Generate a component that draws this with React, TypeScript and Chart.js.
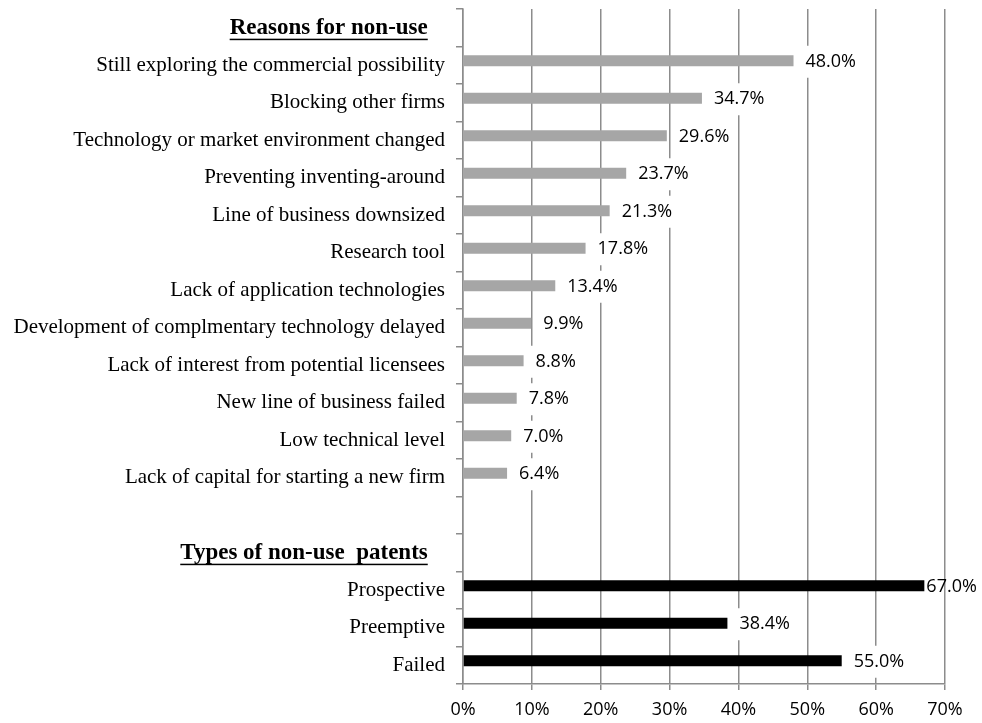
import React, { useEffect, useRef } from 'react';
import { Chart, registerables } from 'chart.js';

Chart.register(...registerables);

const reasonsHeader = 'Reasons for non-use';
const reasonLabels = [
  'Still exploring the commercial possibility',
  'Blocking other firms',
  'Technology or market environment changed',
  'Preventing inventing-around',
  'Line of business downsized',
  'Research tool',
  'Lack of application technologies',
  'Development of complmentary technology delayed',
  'Lack of interest from potential licensees',
  'New line of business failed',
  'Low technical level',
  'Lack of capital for starting a new firm',
];
const reasonValues = [48.0, 34.7, 29.6, 23.7, 21.3, 17.8, 13.4, 9.9, 8.8, 7.8, 7.0, 6.4];

const typesHeader = 'Types of non-use  patents';
const typeLabels = ['Prospective', 'Preemptive', 'Failed'];
const typeValues = [67.0, 38.4, 55.0];

const xTickValues = [0, 10, 20, 30, 40, 50, 60, 70];

const HEADER_PAD = '   ';
const SERIF = '"Liberation Serif", "Times New Roman", serif';
const SANS = '"Open Sans", "Liberation Sans", sans-serif';
const HEADER_SIZE = 23;

export default function App() {
  const ref = useRef<HTMLCanvasElement | null>(null);

  useEffect(() => {
    document.body.style.margin = '0';
    const canvas = ref.current;
    if (!canvas) return;

    const categories = [
      reasonsHeader + HEADER_PAD,
      ...reasonLabels,
      '',
      typesHeader + HEADER_PAD,
      ...typeLabels,
    ];
    const headerIdx = [0, reasonLabels.length + 2];
    const n = categories.length;
    const reasonData: (number | null)[] = new Array(n).fill(null);
    reasonValues.forEach((v, i) => (reasonData[1 + i] = v));
    const typeData: (number | null)[] = new Array(n).fill(null);
    typeValues.forEach((v, i) => (typeData[reasonLabels.length + 3 + i] = v));
    const padData: (number | null)[] = new Array(n).fill(null);

    const labelPlugin = {
      id: 'valueLabels',
      afterDatasetsDraw(chart: any) {
        const ctx = chart.ctx;
        ctx.save();
        ctx.font = `18px ${SANS}`;
        ctx.textBaseline = 'middle';
        ctx.textAlign = 'left';
        chart.data.datasets.forEach((ds: any, di: number) => {
          if (ds.label === 'pad') return;
          const meta = chart.getDatasetMeta(di);
          meta.data.forEach((bar: any, i: number) => {
            const v = ds.data[i];
            if (v === null || v === undefined) return;
            const txt = v.toFixed(1) + '%';
            const w = ctx.measureText(txt).width;
            let x = bar.x + 12;
            const y = bar.y + 1;
            let box = true;
            if (x + w > chart.width - 1) {
              x = bar.x + 2;
              box = false;
            }
            if (box) {
              ctx.fillStyle = '#ffffff';
              ctx.fillRect(x - 6, y - 16, w + 12, 32);
            }
            ctx.fillStyle = '#000000';
            ctx.fillText(txt, x, y);
          });
        });
        ctx.restore();
      },
    };

    const underlinePlugin = {
      id: 'headerUnderline',
      afterDraw(chart: any) {
        const ctx = chart.ctx;
        const ys = chart.scales.y;
        ctx.save();
        ctx.font = `bold ${HEADER_SIZE}px ${SERIF}`;
        ctx.textBaseline = 'middle';
        const padW = ctx.measureText(HEADER_PAD).width;
        const mDesc = ctx.measureText('M').actualBoundingBoxDescent || 6;
        headerIdx.forEach((idx) => {
          const label = String(categories[idx]).trimEnd();
          const w = ctx.measureText(label).width;
          const right = ys.right - 7 - 11 - padW;
          const py = ys.getPixelForTick(idx) + mDesc + 5;
          ctx.fillStyle = '#000000';
          ctx.fillRect(right - w, py, w, 1.5);
        });
        ctx.restore();
      },
    };

    const chart = new Chart(canvas, {
      type: 'bar',
      data: {
        labels: categories,
        datasets: [
          {
            label: 'reasons',
            data: reasonData,
            backgroundColor: '#a6a6a6',
            stack: 'main',
            categoryPercentage: 0.48,
            barPercentage: 1.2,
          },
          {
            label: 'types',
            data: typeData,
            backgroundColor: '#000000',
            stack: 'main',
            categoryPercentage: 0.48,
            barPercentage: 1.2,
          },
          {
            label: 'pad',
            data: padData,
            backgroundColor: 'rgba(0,0,0,0)',
            stack: 'pad',
            categoryPercentage: 0.48,
            barPercentage: 1.2,
          },
        ],
      } as any,
      options: {
        indexAxis: 'y',
        responsive: false,
        animation: false,
        events: [],
        layout: { padding: { top: 9, right: 37, bottom: 0, left: 0 } },
        plugins: {
          legend: { display: false },
          tooltip: { enabled: false },
        },
        scales: {
          x: {
            type: 'linear',
            min: 0,
            max: 70,
            afterFit: (s: any) => {
              s.height = 39;
              s.paddingLeft = 0;
              s.paddingRight = 0;
            },
            afterBuildTicks: (s: any) => {
              s.ticks = xTickValues.map((v) => ({ value: v }));
            },
            ticks: {
              callback: (v: any) => `${v}%`,
              color: '#000000',
              font: { family: SANS, size: 18 },
              padding: 9,
              maxRotation: 0,
            },
            grid: {
              color: '#8c8c8c',
              lineWidth: 1.5,
              tickLength: 6,
              drawTicks: true,
            },
            border: { display: true, color: '#8c8c8c', width: 1.5 },
          },
          y: {
            type: 'category',
            afterFit: (s: any) => {
              s.width = 463;
              s.paddingTop = 0;
              s.paddingBottom = 0;
            },
            ticks: {
              autoSkip: false,
              color: '#000000',
              padding: 11,
              font: (c: any) =>
                headerIdx.includes(c.index)
                  ? { family: SERIF, size: HEADER_SIZE, weight: 'bold' }
                  : { family: SERIF, size: 21, weight: 'normal' },
            },
            grid: {
              drawOnChartArea: false,
              drawTicks: true,
              tickLength: 7,
              offset: true,
              color: '#8c8c8c',
              lineWidth: 1.5,
            },
            border: { display: true, color: '#8c8c8c', width: 1.5 },
          },
        },
      } as any,
      plugins: [labelPlugin, underlinePlugin],
    });

    return () => chart.destroy();
  }, []);

  return (
    <div style={{ width: 982, height: 723 }}>
      <canvas ref={ref} width={982} height={723} style={{ display: 'block' }} />
    </div>
  );
}
